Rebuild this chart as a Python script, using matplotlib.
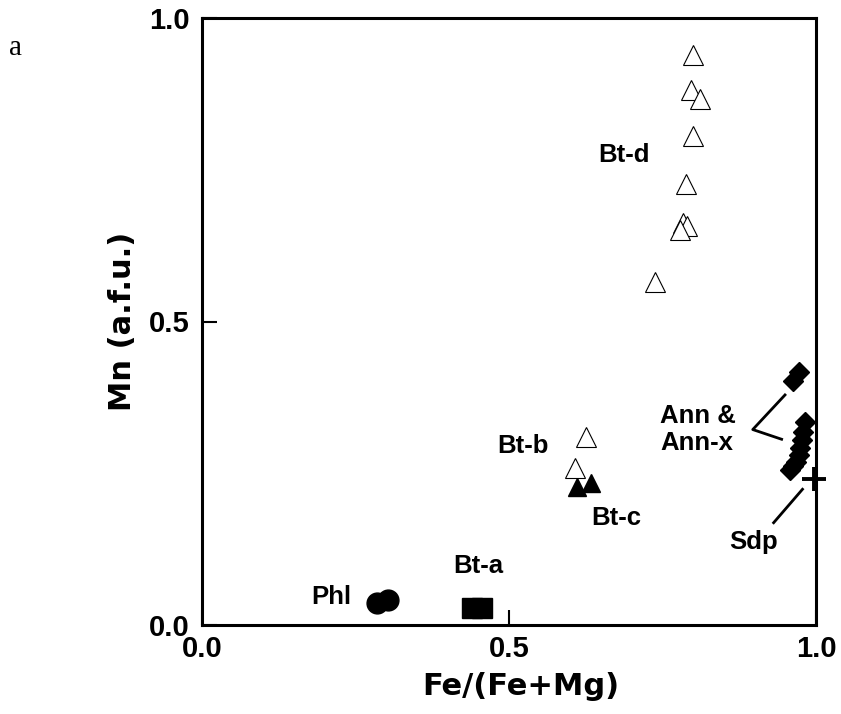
import matplotlib
matplotlib.use("Agg")
import matplotlib.pyplot as plt

# Bt-d (open triangles)
btd_x = [0.800, 0.797, 0.811, 0.800, 0.788, 0.784, 0.790, 0.778, 0.737]
btd_y = [0.939, 0.882, 0.866, 0.806, 0.727, 0.663, 0.658, 0.650, 0.565]
# Bt-b (open triangles)
btb_x = [0.625, 0.608]
btb_y = [0.309, 0.259]
# Bt-c (filled triangles)
btc_x = [0.611, 0.633]
btc_y = [0.228, 0.234]
# Phl (circles)
phl_x = [0.285, 0.303]
phl_y = [0.036, 0.041]
# Bt-a (squares)
bta_x = [0.440, 0.456]
bta_y = [0.0285, 0.0285]
# Ann & Ann-x (diamonds)
ann_x = [0.973, 0.962, 0.982, 0.979, 0.977, 0.974, 0.972, 0.968, 0.963, 0.958]
ann_y = [0.417, 0.402, 0.335, 0.318, 0.305, 0.291, 0.280, 0.269, 0.262, 0.255]
# Sdp (plus)
sdp_x = [0.997]
sdp_y = [0.240]

ticks = [0.0, 0.5, 1.0]
tick_labels = ["0.0", "0.5", "1.0"]

lab_font = "Liberation Sans"

fig = plt.figure(figsize=(8.41, 7.14), dpi=100)
ax = fig.add_axes([202 / 841, 1 - 625 / 714, 614 / 841, 607 / 714])

ax.plot(btd_x, btd_y, "^", ms=14, mfc="white", mec="black", mew=0.8, ls="none")
ax.plot(btb_x, btb_y, "^", ms=14, mfc="white", mec="black", mew=0.8, ls="none")
ax.plot(btc_x, btc_y, "^", ms=13.5, mfc="black", mec="black", ls="none")
ax.plot(phl_x, phl_y, "o", ms=15, mfc="black", mec="black", ls="none")
ax.plot(bta_x, bta_y, "s", ms=15, mfc="black", mec="black", ls="none")
ax.plot(ann_x, ann_y, "D", ms=10.5, mfc="black", mec="black", ls="none", clip_on=False)
ax.plot(sdp_x, sdp_y, "+", ms=17, mew=2.8, color="black", ls="none", clip_on=False, zorder=5)

# leader lines
ax.plot([0.9495, 0.897, 0.944], [0.379, 0.322, 0.306], color="black", lw=2)
ax.plot([0.978, 0.931], [0.2236, 0.1685], color="black", lw=2)

kw = dict(fontsize=18.5, fontweight="bold", family=lab_font)
ax.text(0.688, 0.774, "Bt-d", ha="center", va="center", **kw)
ax.text(0.523, 0.295, "Bt-b", ha="center", va="center", **kw)
ax.text(0.675, 0.176, "Bt-c", ha="center", va="center", **kw)
ax.text(0.899, 0.137, "Sdp", ha="center", va="center", **kw)
ax.text(0.211, 0.046, "Phl", ha="center", va="center", **kw)
ax.text(0.450, 0.097, "Bt-a", ha="center", va="center", **kw)
ax.text(0.746, 0.322, "Ann &\nAnn-x", ha="left", va="center", linespacing=1.15, **kw)

ax.set_xlim(0, 1)
ax.set_ylim(0, 1)
ax.set_xticks(ticks)
ax.set_yticks(ticks)
ax.set_xticklabels(tick_labels)
ax.set_yticklabels(tick_labels)
ax.tick_params(direction="in", length=11, width=1.5, pad=9,
               labelsize=21)
ax.tick_params(axis="x", pad=7)
for lbl in ax.get_xticklabels() + ax.get_yticklabels():
    lbl.set_fontweight("bold")
    lbl.set_family(lab_font)
for s in ax.spines.values():
    s.set_linewidth(2.2)

ax.set_xlabel("Fe/(Fe+Mg)", fontsize=22, fontweight="bold", family="DejaVu Sans")
ax.set_ylabel("Mn (a.f.u.)", fontsize=22, fontweight="bold", family="DejaVu Sans")
ax.xaxis.set_label_coords(0.52, -0.077)
ax.yaxis.set_label_coords(-0.106, 0.5)

fig.text(15 / 841, 1 - 48 / 714, "a", fontsize=21, family="Liberation Serif",
         ha="center", va="center")

fig.savefig("out.png", dpi=100)
